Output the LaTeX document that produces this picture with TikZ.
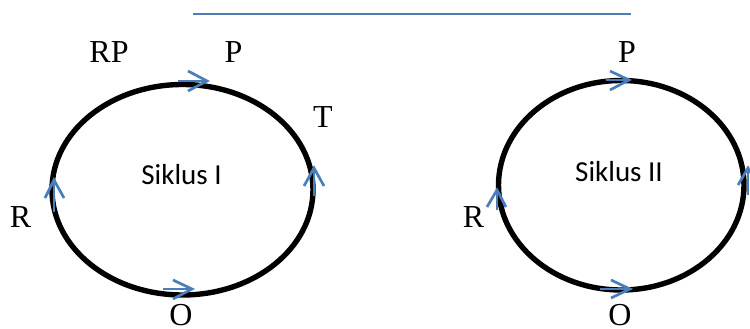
\documentclass[tikz,border=0pt]{standalone}
\usepackage{fontspec}
\setmainfont{Liberation Serif}
\newfontfamily\calib{Carlito}
\definecolor{wordblue}{RGB}{74,126,187}
\begin{document}
\begin{tikzpicture}[x=1pt,y=-1pt,
  cycle/.style={draw=black,line width=5.4pt},
  lbl/.style={inner sep=0pt,anchor=base,font=\fontsize{32}{36}\selectfont},
  title/.style={inner sep=0pt,anchor=base,font=\calib\fontsize{29}{34}\selectfont},
  arr/.style={draw=wordblue,line width=2.7pt,line join=miter},
  topline/.style={draw=wordblue,line width=2.3pt}]
\useasboundingbox (0,0) rectangle (750,329);
\begin{scope}
\clip (0,0) rectangle (750,329);
% top line
\coordinate (la) at (193,13.8);
\coordinate (lb) at (631,13.8);
\draw[topline] (la) -- (lb);
% cycles
\coordinate (c1) at (182.5,189.75);
\coordinate (c2) at (621.25,185.25);
\draw[cycle] (c1) ellipse [x radius=130.5, y radius=105.25];
\draw[cycle] (c2) ellipse [x radius=122.75, y radius=104.75];
% arrows cycle I
\draw[arr] (178,81) -- (207,81);
\draw[arr] (188,71) -- (207,81) -- (188,91);
\draw[arr] (163,289) -- (192,289);
\draw[arr] (173,280) -- (192,289) -- (173,299);
\draw[arr] (54,212) -- (54,180);
\draw[arr] (45,198) -- (54,180) -- (64,198);
\draw[arr] (314,196) -- (314,168);
\draw[arr] (304,186) -- (314,168) -- (324,186);
% arrows cycle II
\draw[arr] (606,80) -- (629,80);
\draw[arr] (610,71) -- (629,80) -- (610,90);
\draw[arr] (600,289) -- (630,289);
\draw[arr] (611,280) -- (630,289) -- (611,298);
\draw[arr] (497,210) -- (497,190);
\draw[arr] (487,207) -- (497,190) -- (506,207);
\draw[arr] (748,195) -- (748,168);
\draw[arr] (738,185) -- (748,168) -- (758,185);
\end{scope}
% labels
\node[lbl] (rp) at (109,63) {RP};
\node[lbl] (p1) at (233.5,63) {P};
\node[lbl] (t1) at (323,128) {T};
\node[lbl] (r1) at (20.5,227) {R};
\node[lbl] (o1) at (181,325) {O};
\node[lbl] (p2) at (627,63) {P};
\node[lbl] (r2) at (473.5,227) {R};
\node[lbl] (o2) at (620,325) {O};
\node[title] (s1) at (181.5,184) {Siklus I};
\node[title] (s2) at (619,181) {Siklus II};
\end{tikzpicture}
\end{document}
